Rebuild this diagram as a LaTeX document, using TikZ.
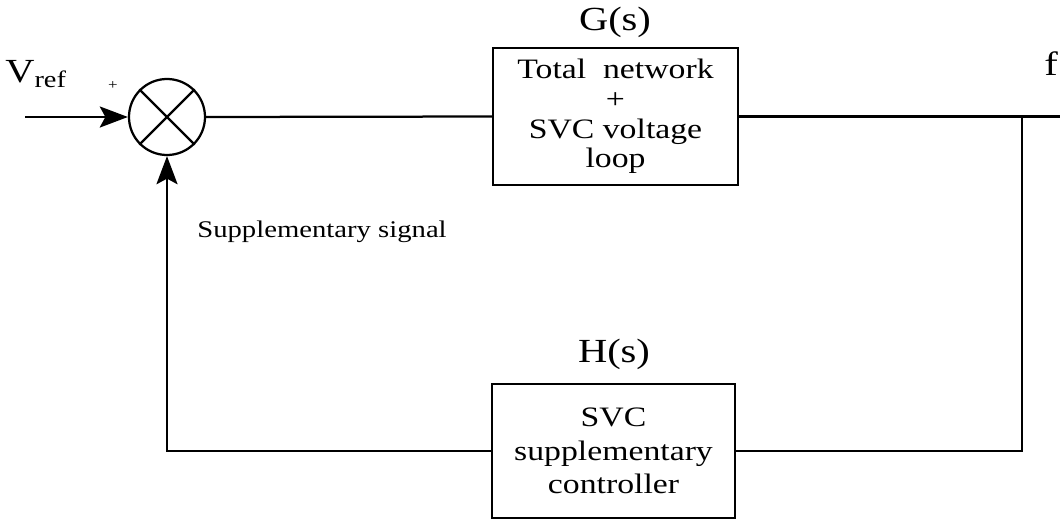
\documentclass[tikz,border=0pt]{standalone}
\usepackage{fontspec}
\setmainfont{Liberation Serif}[FakeStretch=1.2]
\usetikzlibrary{arrows.meta}

\begin{document}
\begin{tikzpicture}[x=0.025cm,y=-0.025cm,>={Stealth[length=20pt,width=15pt,inset=4pt]},line width=1.6pt,
box/.style={draw,line width=1.6pt,align=center,font=\fontsize{20}{21}\selectfont,inner sep=0pt},
lbl/.style={font=\fontsize{24}{28}\selectfont,inner sep=0pt}]
\useasboundingbox (0,0) rectangle (1060,521);
\node[draw,circle,minimum size=1.9cm,inner sep=0pt] (sum) at (167,117) {};
\draw (sum.45)--(sum.225) (sum.135)--(sum.315);
\node[box,minimum width=6.125cm,minimum height=3.425cm] (g) at (615.5,116.5) {Total\ \ network\\+\\SVC voltage\\loop};
\node[box,minimum width=6.075cm,minimum height=3.35cm,font=\fontsize{20}{24}\selectfont] (h) at (613.5,451) {SVC\\supplementary\\controller};
\node[lbl] (gs) at (615,22) {G(s)};
\node[lbl] (hs) at (614,354) {H(s)};
\node[lbl] (vref) at (36,74) {V\textsubscript{ref}};
\node[font=\fontsize{10}{10}\selectfont,inner sep=0pt] (plus) at (113,86) {+};
\node[lbl,anchor=east] (f) at (1059,64) {f};
\node[font=\fontsize{17}{20}\selectfont,inner sep=0pt] (sig) at (322,232) {Supplementary signal};
\coordinate (in) at (25,117);
\coordinate (br) at (1022,116.5);
\coordinate (out) at (1060,116.5);
\draw[->] (in) -- (sum.west);
\draw (sum.east) -- (g.west);
\draw (g.east) -- (out);
\draw (br) |- (h.east);
\draw[->] (h.west) -| (sum.south);
\end{tikzpicture}
\end{document}
